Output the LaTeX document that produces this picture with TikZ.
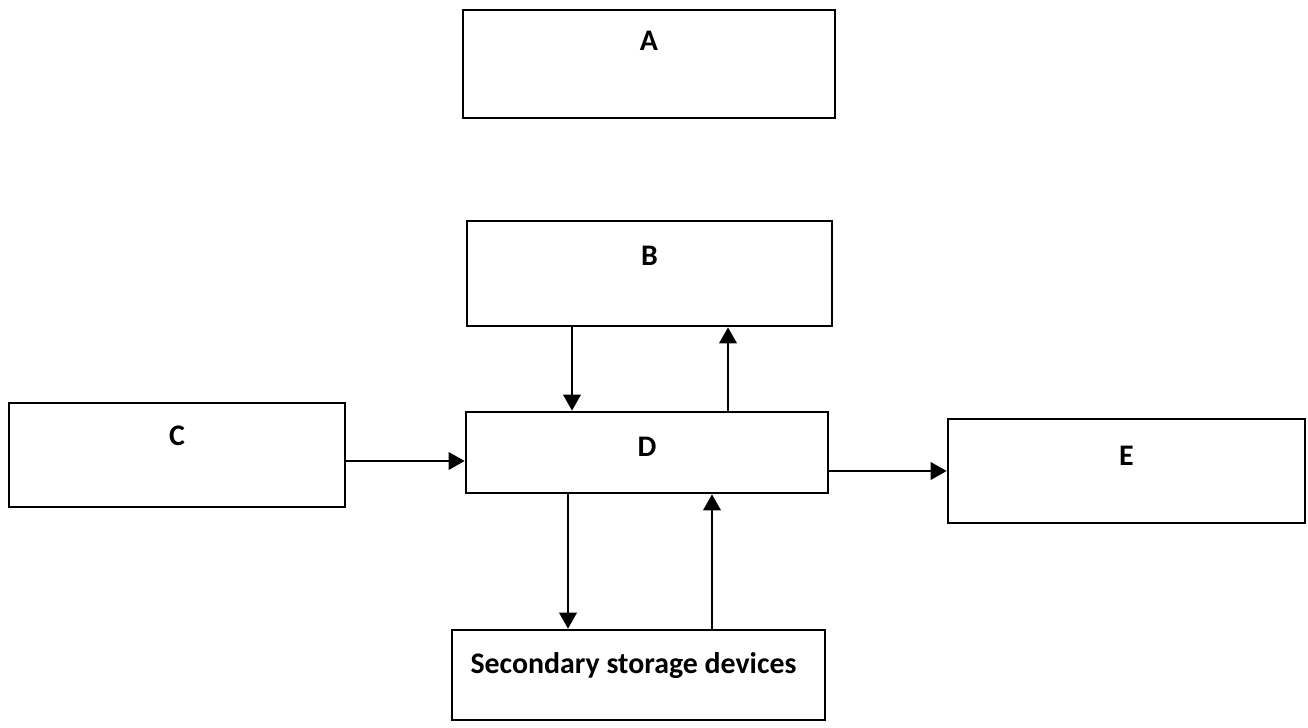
\documentclass[tikz,border=0pt]{standalone}
\usepackage{fontspec}
\setmainfont{Carlito}
\usepackage{tikz}
\usetikzlibrary{positioning,arrows.meta,calc}

\begin{document}
\begin{tikzpicture}[
  box/.style={rectangle, draw=black, line width=0.75pt, inner sep=0pt},
  lbl/.style={inner sep=0pt, font=\bfseries\fontsize{8.5}{10}\selectfont},
  arrow/.style={-{Triangle[length=4.6pt,width=5pt]}, line width=0.7pt}
]
  \useasboundingbox (0,0) rectangle (13.08,7.27);

  \node[box, minimum width=3.72cm, minimum height=1.08cm] (A) at (6.49, 6.63) {};
  \node[box, minimum width=3.65cm, minimum height=1.05cm] (B) at (6.495, 4.535) {};
  \node[box, minimum width=3.36cm, minimum height=1.04cm] (C) at (1.77, 2.72) {};
  \node[box, minimum width=3.62cm, minimum height=0.81cm] (D) at (6.47, 2.745) {};
  \node[box, minimum width=3.57cm, minimum height=1.04cm] (E) at (11.265, 2.56) {};
  \node[box, minimum width=3.73cm, minimum height=0.90cm] (SSD) at (6.385, 0.52) {};

  \node[lbl, below=0.22 of A.north] (Alab) {A};
  \node[lbl, below=0.26 of B.north] (Blab) {B};
  \node[lbl, below=0.24 of C.north] (Clab) {C};
  \node[lbl, below=0.26 of D.north] (Dlab) {D};
  \node[lbl, below=0.28 of E.north] (Elab) {E};
  \node[lbl, below=0.23 of SSD.north, xshift=-0.05cm] (SSDlab) {Secondary storage devices};

  \draw[arrow] ([xshift=-0.775cm]B.south) -- ([xshift=-0.775cm]B.south |- D.north);
  \draw[arrow] ([xshift=0.785cm]B.south |- D.north) -- ([xshift=0.785cm]B.south);
  \draw[arrow] ([yshift=-0.06cm]C.east) -- ([yshift=-0.06cm]C.east -| D.west);
  \draw[arrow] (D.east |- E.west) -- (E.west);
  \draw[arrow] ([xshift=-0.79cm]D.south) -- ([xshift=-0.79cm]D.south |- SSD.north);
  \draw[arrow] ([xshift=0.65cm]D.south |- SSD.north) -- ([xshift=0.65cm]D.south);
\end{tikzpicture}
\end{document}
